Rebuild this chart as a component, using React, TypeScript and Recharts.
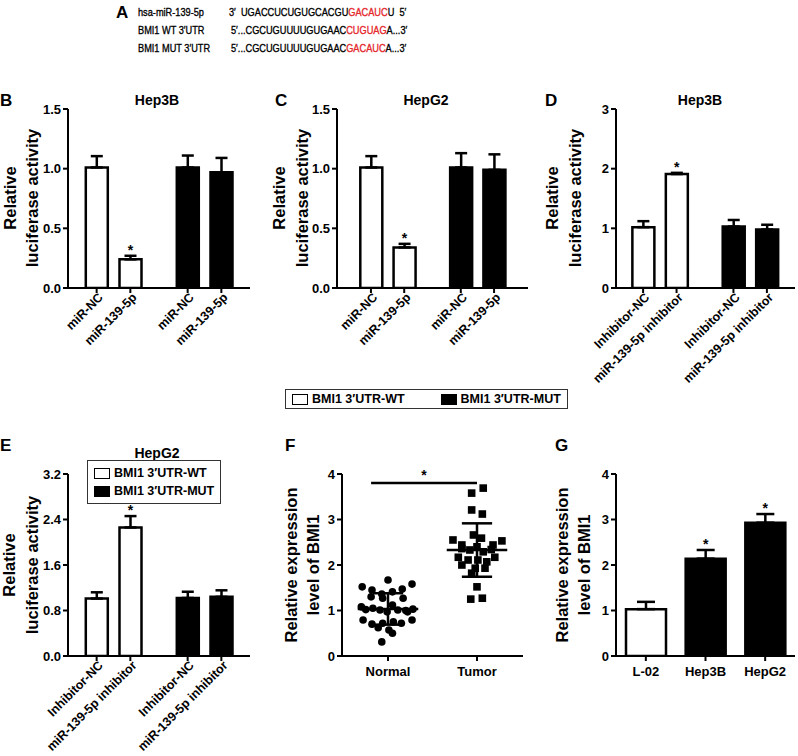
import React from 'react';
import {
  BarChart,
  Bar,
  Cell,
  XAxis,
  YAxis,
  ErrorBar,
  LabelList,
  ScatterChart,
  Scatter,
  ReferenceLine,
} from 'recharts';

const FONT = '"Liberation Sans", Arial, Helvetica, sans-serif';
const RED = '#e5262b';

// ---- panel A: sequences
const seqLabels = ['hsa-miR-139-5p', 'BMI1 WT 3′UTR', 'BMI1 MUT 3′UTR'];
const seqLeft = ['3′  UGACCUCUGUGCACGU', '5′...CGCUGUUUUGUGAAC', '5′...CGCUGUUUUGUGAAC'];
const seqSeed = ['GACAUC', 'CUGUAG', 'GACAUC'];
const seqRight = ['U  5′', 'A...3′', 'A...3′'];

// ---- panels B-E: luciferase reporter
const reporterNames = ['BMI1 3′UTR-WT', 'BMI1 3′UTR-MUT'];
const reporterGroup = [0, 0, 1, 1];
const barPositions = [1, 2, 3.7, 4.7];
const mimicLabels = ['miR-NC', 'miR-139-5p', 'miR-NC', 'miR-139-5p'];
const inhibitorLabels = ['Inhibitor-NC', 'miR-139-5p inhibitor', 'Inhibitor-NC', 'miR-139-5p inhibitor'];
const significant = [false, true, false, false];

const hep3bMimic = [1.01, 0.24, 1.01, 0.97];
const hep3bMimicErr = [0.095, 0.03, 0.1, 0.12];
const hepg2Mimic = [1.01, 0.34, 1.01, 0.99];
const hepg2MimicErr = [0.095, 0.03, 0.12, 0.13];
const hep3bInhib = [1.02, 1.91, 1.03, 0.98];
const hep3bInhibErr = [0.1, 0.02, 0.11, 0.08];
const hepg2Inhib = [1.01, 2.26, 1.02, 1.04];
const hepg2InhibErr = [0.11, 0.2, 0.11, 0.115];

// ---- panel F: tissue expression (value, horizontal jitter)
const normalValues = [1.67, 1.52, 1.58, 1.45, 1.36, 1.41, 1.47, 1.3, 1.27, 1.27, 1.12, 1.08, 1.05, 1.03, 1.01, 0.97, 1.01, 0.97, 0.79, 0.7, 0.72, 0.75, 0.72, 0.79, 0.62, 0.57, 0.5, 0.31, 1.02, 1.0];
const normalJitter = [0.0, -0.29, 0.27, -0.18, -0.07, 0.05, 0.16, -0.19, -0.06, 0.17, 0.05, -0.3, -0.17, 0.28, -0.09, -0.01, 0.11, 0.22, -0.28, -0.18, -0.06, 0.06, 0.15, 0.27, -0.11, 0.01, 0.05, -0.07, -0.25, 0.2];
const tumorValues = [3.69, 3.58, 3.21, 3.12, 2.66, 2.55, 2.53, 2.59, 2.44, 2.44, 2.33, 2.29, 2.17, 2.17, 2.11, 2.11, 2.07, 2.0, 1.93, 1.93, 1.82, 1.52, 1.25, 1.27, 2.36, 2.34, 2.4];
const tumorJitter = [0.07, -0.06, -0.06, 0.06, -0.04, -0.27, 0.28, 0.05, -0.17, 0.18, -0.08, 0.07, -0.21, 0.2, -0.1, 0.01, 0.11, -0.17, -0.02, 0.09, -0.06, 0.0, -0.07, 0.06, -0.17, 0.16, 0.0];
const tissueLabels = ['Normal', 'Tumor'];

// ---- panel G: cell lines
const cellLines = ['L-02', 'Hep3B', 'HepG2'];
const cellValues = [1.03, 2.14, 2.93];
const cellErr = [0.16, 0.19, 0.19];
const cellSig = [false, true, true];
const cellGroup = [0, 1, 1];

const fills = ['#ffffff', '#000000'];
const axisStyle = { stroke: '#000', strokeWidth: 2 };
const tickText = { fill: '#000', fontSize: 13, fontWeight: 700, fontFamily: FONT };

type Plot = { x0: number; x1: number; y0: number; y1: number };
const YW = 60;
const TOPM = 20;
const XH = 110;
const RIGHTM = 12;

function makeRows(values: number[], errs: number[]) {
  return barPositions.map((pos, i) => ({
    pos,
    value: values[i],
    err: [0, errs[i]],
    sig: significant[i],
    group: reporterGroup[i],
  }));
}

const starContent = (rows: any[]) => (props: any) => {
  const { x, y, width, height, index } = props;
  const r = rows[index];
  if (!r || !r.sig) return null;
  const perUnit = Number(height) / r.value;
  const yTop = Number(y) - r.err[1] * perUnit;
  return (
    <text x={Number(x) + Number(width) / 2} y={yTop - 1} textAnchor="middle" fontSize={14} fontWeight={700} fontFamily={FONT} fill="#000">
      *
    </text>
  );
};

function RotTick(props: any) {
  const { x, y, payload, labels } = props;
  const i = barPositions.indexOf(payload.value);
  return (
    <g transform={`translate(${x + 4},${y})`}>
      <text textAnchor="end" transform="rotate(-45)" dy="0.35em" {...tickText} fontSize={12.5}>
        {labels[i]}
      </text>
    </g>
  );
}

function Holder({ plot, children }: { plot: Plot; children: React.ReactNode }) {
  return <div style={{ position: 'absolute', left: plot.x0 - YW, top: plot.y0 - TOPM }}>{children}</div>;
}

function dims(plot: Plot) {
  return { width: plot.x1 - plot.x0 + YW + RIGHTM, height: plot.y1 - plot.y0 + TOPM + XH };
}

function ReporterPanel(props: {
  plot: Plot;
  values: number[];
  errs: number[];
  yMax: number;
  yTicks: number[];
  digits: number;
  xDomain: [number, number];
  labels: string[];
}) {
  const { plot, values, errs, yMax, yTicks, digits, xDomain, labels } = props;
  const rows = makeRows(values, errs);
  const { width, height } = dims(plot);
  return (
    <Holder plot={plot}>
      <BarChart width={width} height={height} data={rows} margin={{ top: TOPM, right: RIGHTM, bottom: 0, left: 0 }}>
        <XAxis
          type="number"
          dataKey="pos"
          domain={xDomain}
          ticks={barPositions}
          interval={0}
          height={XH}
          axisLine={axisStyle}
          tickLine={axisStyle}
          tickSize={5}
          tick={<RotTick labels={labels} />}
          allowDataOverflow
        />
        <YAxis
          domain={[0, yMax]}
          ticks={yTicks}
          interval={0}
          width={YW}
          axisLine={axisStyle}
          tickLine={axisStyle}
          tickSize={5}
          tick={tickText}
          tickFormatter={(v: number) => v.toFixed(digits)}
          allowDataOverflow
        />
        <Bar dataKey="value" barSize={22} stroke="#000" strokeWidth={2.5} isAnimationActive={false}>
          {rows.map((r, i) => (
            <Cell key={i} fill={fills[r.group]} />
          ))}
          <ErrorBar dataKey="err" width={6} stroke="#000" strokeWidth={2.5} direction="y" isAnimationActive={false} />
          <LabelList dataKey="value" content={starContent(rows)} />
        </Bar>
      </BarChart>
    </Holder>
  );
}

function mean(a: number[]) {
  return a.reduce((s, v) => s + v, 0) / a.length;
}
function sd(a: number[]) {
  const m = mean(a);
  return Math.sqrt(a.reduce((s, v) => s + (v - m) * (v - m), 0) / (a.length - 1));
}

const CircleDot = (p: any) => <circle cx={p.cx} cy={p.cy} r={3.8} fill="#000" />;
const SquareDot = (p: any) => <rect x={p.cx - 3.8} y={p.cy - 3.8} width={7.6} height={7.6} fill="#000" />;

function TissuePanel({ plot }: { plot: Plot }) {
  const { width, height } = dims(plot);
  const normal = normalValues.map((v, i) => ({ x: 1 + normalJitter[i], y: v }));
  const tumor = tumorValues.map((v, i) => ({ x: 2 + tumorJitter[i], y: v }));
  const groups = [normalValues, tumorValues];
  const lineStyle = { stroke: '#000', strokeWidth: 2.5 };
  return (
    <Holder plot={plot}>
      <ScatterChart width={width} height={height} margin={{ top: TOPM, right: RIGHTM, bottom: 0, left: 0 }}>
        <XAxis
          type="number"
          dataKey="x"
          domain={[0.483, 2.517]}
          ticks={[1, 2]}
          interval={0}
          height={XH}
          axisLine={axisStyle}
          tickLine={axisStyle}
          tickSize={5}
          tickMargin={6}
          tick={tickText}
          tickFormatter={(v: number) => tissueLabels[v - 1]}
          allowDataOverflow
        />
        <YAxis
          type="number"
          dataKey="y"
          domain={[0, 4]}
          ticks={[0, 1, 2, 3, 4]}
          interval={0}
          width={YW}
          axisLine={axisStyle}
          tickLine={axisStyle}
          tickSize={5}
          tick={tickText}
          allowDataOverflow
        />
        <Scatter data={normal} shape={CircleDot} isAnimationActive={false} />
        <Scatter data={tumor} shape={SquareDot} isAnimationActive={false} />
        {groups.map((g, i) => {
          const c = i + 1;
          const m = mean(g);
          const s = sd(g);
          return (
            <React.Fragment key={i}>
              <ReferenceLine segment={[{ x: c - 0.34, y: m }, { x: c + 0.34, y: m }]} {...lineStyle} />
              <ReferenceLine segment={[{ x: c - 0.17, y: m + s }, { x: c + 0.17, y: m + s }]} {...lineStyle} />
              <ReferenceLine segment={[{ x: c - 0.17, y: m - s }, { x: c + 0.17, y: m - s }]} {...lineStyle} />
              <ReferenceLine segment={[{ x: c, y: m - s }, { x: c, y: m + s }]} {...lineStyle} />
            </React.Fragment>
          );
        })}
        <ReferenceLine
          segment={[{ x: 0.81, y: 3.8 }, { x: 2.0, y: 3.8 }]}
          {...lineStyle}
          label={(p: any) => {
            const vb = p.viewBox || {};
            return (
              <text x={vb.x + (vb.width || 0) / 2} y={vb.y - 3} textAnchor="middle" fontSize={14} fontWeight={700} fontFamily={FONT}>
                *
              </text>
            );
          }}
        />
      </ScatterChart>
    </Holder>
  );
}

function CellPanel({ plot }: { plot: Plot }) {
  const { width, height } = dims(plot);
  const rows = cellLines.map((name, i) => ({ name, value: cellValues[i], err: [0, cellErr[i]], sig: cellSig[i], group: cellGroup[i] }));
  return (
    <Holder plot={plot}>
      <BarChart width={width} height={height} data={rows} margin={{ top: TOPM, right: RIGHTM, bottom: 0, left: 0 }}>
        <XAxis
          dataKey="name"
          interval={0}
          height={XH}
          axisLine={axisStyle}
          tickLine={axisStyle}
          tickSize={5}
          tickMargin={6}
          tick={tickText}
        />
        <YAxis
          domain={[0, 4]}
          ticks={[0, 1, 2, 3, 4]}
          interval={0}
          width={YW}
          axisLine={axisStyle}
          tickLine={axisStyle}
          tickSize={5}
          tick={tickText}
          allowDataOverflow
        />
        <Bar dataKey="value" barSize={40} stroke="#000" strokeWidth={2.5} isAnimationActive={false}>
          {rows.map((r, i) => (
            <Cell key={i} fill={fills[r.group]} />
          ))}
          <ErrorBar dataKey="err" width={9} stroke="#000" strokeWidth={2.5} direction="y" isAnimationActive={false} />
          <LabelList dataKey="value" content={starContent(rows)} />
        </Bar>
      </BarChart>
    </Holder>
  );
}

const abs = (left: number, top: number, extra: React.CSSProperties = {}): React.CSSProperties => ({
  position: 'absolute',
  left,
  top,
  whiteSpace: 'pre',
  ...extra,
});

function Letter({ x, y, t }: { x: number; y: number; t: string }) {
  return <div style={abs(x, y, { fontSize: 17, fontWeight: 700, lineHeight: '17px' })}>{t}</div>;
}

function Title({ cx, cy, t }: { cx: number; cy: number; t: string }) {
  return (
    <div style={abs(cx, cy, { fontSize: 14, fontWeight: 700, lineHeight: '14px', transform: 'translate(-50%,-50%)' })}>{t}</div>
  );
}

function YLabel({ xs, cy, lines }: { xs: number[]; cy: number; lines: string[] }) {
  return (
    <>
      {lines.map((l, i) => (
        <div
          key={i}
          style={abs(xs[i], cy, {
            fontSize: 16.5,
            fontWeight: 700,
            lineHeight: '17px',
            transform: 'translate(-50%,-50%) rotate(-90deg)',
          })}
        >
          {l}
        </div>
      ))}
    </>
  );
}

function LegendBox({ left, top, vertical }: { left: number; top: number; vertical?: boolean }) {
  return (
    <div
      style={{
        position: 'absolute',
        left,
        top,
        border: '1.5px solid #333',
        background: '#fff',
        display: 'flex',
        flexDirection: vertical ? 'column' : 'row',
        gap: vertical ? 4 : 36,
        padding: vertical ? '5px 6px' : '2px 6px',
        fontSize: 12.5,
        fontWeight: 700,
        lineHeight: '14px',
      }}
    >
      {reporterNames.map((n, i) => (
        <div key={n} style={{ display: 'flex', alignItems: 'center', whiteSpace: 'nowrap' }}>
          <span
            style={{
              display: 'inline-block',
              width: 14,
              height: 9,
              border: '1.5px solid #000',
              background: fills[i],
              marginRight: 4,
            }}
          />
          {n}
        </div>
      ))}
    </div>
  );
}

const narrow = (extra: React.CSSProperties = {}): React.CSSProperties => ({
  fontSize: 11.5,
  lineHeight: '12px',
  transform: 'scaleX(0.8)',
  transformOrigin: 'left center',
  WebkitTextStrokeWidth: '0.35px',
  ...extra,
});

export default function App() {
  const rowY = [6, 24, 42];
  return (
    <div
      style={{
        position: 'relative',
        width: 798,
        height: 756,
        overflow: 'hidden',
        background: '#fff',
        fontFamily: FONT,
        color: '#000',
      }}
    >
      <style>{'body{margin:0}'}</style>

      {/* A */}
      <Letter x={116} y={4} t="A" />
      {seqLabels.map((l, i) => (
        <div key={l} style={abs(138, rowY[i], narrow())}>
          {l}
        </div>
      ))}
      {seqLeft.map((s, i) => (
        <div key={i} style={abs(i === 0 ? 229 : 231, rowY[i], narrow())}>
          {s}
          <span style={{ color: RED }}>{seqSeed[i]}</span>
          {seqRight[i]}
        </div>
      ))}

      {/* B */}
      <ReporterPanel
        plot={{ x0: 68, x1: 250, y0: 109, y1: 288 }}
        values={hep3bMimic}
        errs={hep3bMimicErr}
        yMax={1.5}
        yTicks={[0, 0.5, 1, 1.5]}
        digits={1}
        xDomain={[0.15, 5.55]}
        labels={mimicLabels}
      />
      <Letter x={0} y={92} t="B" />
      <Title cx={157} cy={100} t="Hep3B" />
      <YLabel xs={[10, 32]} cy={198} lines={['Relative', 'luciferase activity']} />

      {/* C */}
      <ReporterPanel
        plot={{ x0: 337, x1: 528, y0: 109, y1: 288 }}
        values={hepg2Mimic}
        errs={hepg2MimicErr}
        yMax={1.5}
        yTicks={[0, 0.5, 1, 1.5]}
        digits={1}
        xDomain={[-0.02, 5.72]}
        labels={mimicLabels}
      />
      <Letter x={275} y={92} t="C" />
      <Title cx={426} cy={100} t="HepG2" />
      <YLabel xs={[279, 302]} cy={198} lines={['Relative', 'luciferase activity']} />

      {/* D */}
      <ReporterPanel
        plot={{ x0: 616, x1: 795, y0: 109, y1: 288 }}
        values={hep3bInhib}
        errs={hep3bInhibErr}
        yMax={3}
        yTicks={[0, 1, 2, 3]}
        digits={0}
        xDomain={[0.19, 5.54]}
        labels={inhibitorLabels}
      />
      <Letter x={545} y={92} t="D" />
      <Title cx={700} cy={100} t="Hep3B" />
      <YLabel xs={[552, 575]} cy={198} lines={['Relative', 'luciferase activity']} />

      <LegendBox left={285} top={389} />

      {/* E */}
      <ReporterPanel
        plot={{ x0: 68, x1: 250, y0: 474, y1: 656 }}
        values={hepg2Inhib}
        errs={hepg2InhibErr}
        yMax={3.2}
        yTicks={[0, 0.8, 1.6, 2.4, 3.2]}
        digits={1}
        xDomain={[0.15, 5.55]}
        labels={inhibitorLabels}
      />
      <Letter x={0} y={437} t="E" />
      <Title cx={157} cy={453} t="HepG2" />
      <YLabel xs={[9, 32]} cy={565} lines={['Relative', 'luciferase activity']} />
      <LegendBox left={87} top={460} vertical />

      {/* F */}
      <TissuePanel plot={{ x0: 342, x1: 523, y0: 474, y1: 656 }} />
      <Letter x={285} y={437} t="F" />
      <YLabel xs={[291, 313]} cy={565} lines={['Relative expression', 'level of BMI1']} />

      {/* G */}
      <CellPanel plot={{ x0: 616, x1: 795, y0: 474, y1: 656 }} />
      <Letter x={555} y={437} t="G" />
      <YLabel xs={[562, 584]} cy={565} lines={['Relative expression', 'level of BMI1']} />
    </div>
  );
}
